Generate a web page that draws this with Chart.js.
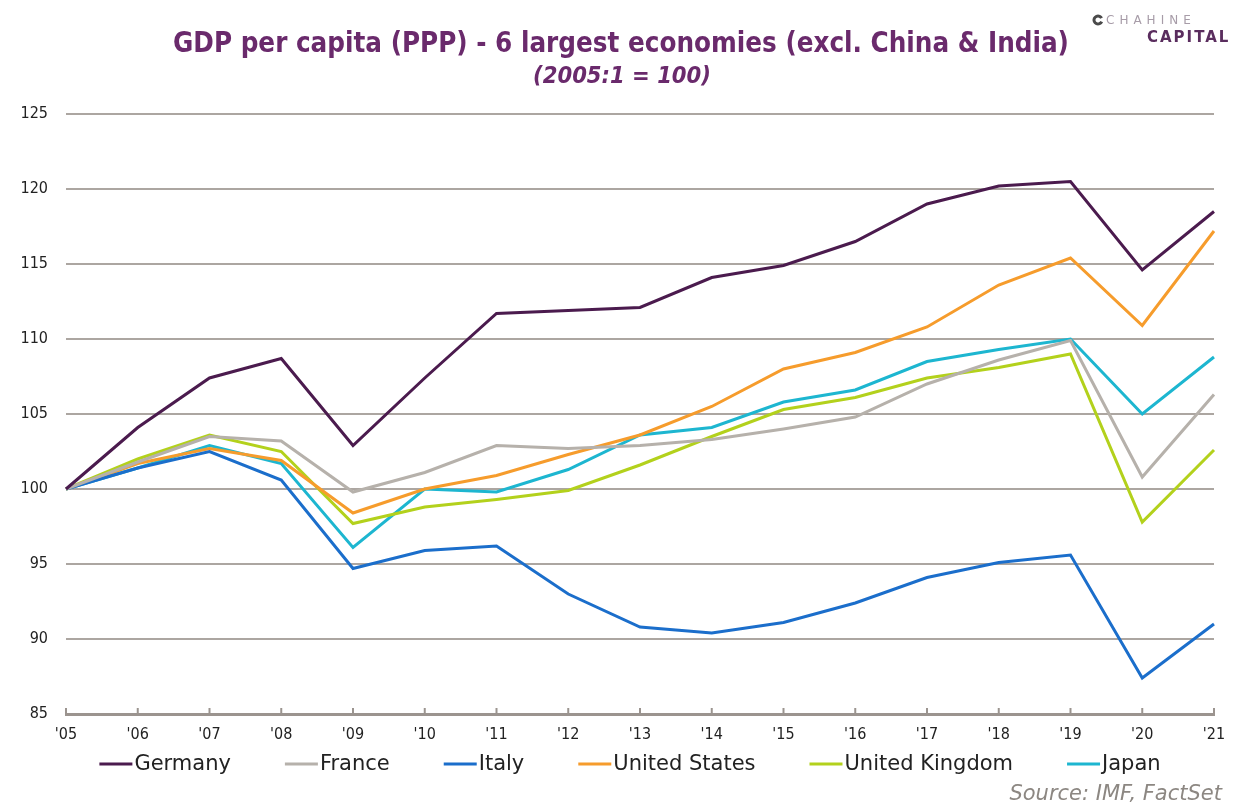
<!DOCTYPE html>
<html>
<head>
<meta charset="utf-8">
<script src="https://cdn.jsdelivr.net/npm/chart.js"></script>
<style>
  html, body { margin: 0; padding: 0; background: #fff; overflow: hidden; }
  canvas { display: block; }
</style>
</head>
<body>
<canvas id="chart" width="1233" height="805"></canvas>
<script>
const years = ["'05", "'06", "'07", "'08", "'09", "'10", "'11", "'12", "'13", "'14", "'15", "'16", "'17", "'18", "'19", "'20", "'21"];
const germany = [100, 104.1, 107.4, 108.7, 102.9, 107.4, 111.7, 111.9, 112.1, 114.1, 114.9, 116.5, 119.0, 120.2, 120.5, 114.6, 118.5];
const france  = [100, 101.8, 103.5, 103.2, 99.8, 101.1, 102.9, 102.7, 102.9, 103.3, 104.0, 104.8, 107.0, 108.6, 109.9, 100.8, 106.3];
const italy   = [100, 101.4, 102.5, 100.6, 94.7, 95.9, 96.2, 93.0, 90.8, 90.4, 91.1, 92.4, 94.1, 95.1, 95.6, 87.4, 91.0];
const usa     = [100, 101.7, 102.7, 101.9, 98.4, 100.0, 100.9, 102.3, 103.6, 105.5, 108.0, 109.1, 110.8, 113.6, 115.4, 110.9, 117.2];
const uk      = [100, 102.0, 103.6, 102.5, 97.7, 98.8, 99.3, 99.9, 101.6, 103.5, 105.3, 106.1, 107.4, 108.1, 109.0, 97.8, 102.6];
const japan   = [100, 101.4, 102.9, 101.7, 96.1, 100.0, 99.8, 101.3, 103.6, 104.1, 105.8, 106.6, 108.5, 109.3, 110.0, 105.0, 108.8];
const yTicks  = [85, 90, 95, 100, 105, 110, 115, 120, 125];

const COND = '"DejaVu Sans Condensed", "DejaVu Sans", sans-serif';
const SANS = '"DejaVu Sans", sans-serif';

function series(label, data, color) {
  return {
    label: label, data: data, borderColor: color, backgroundColor: color,
    borderWidth: 3, pointRadius: 0, tension: 0, fill: false
  };
}

const decor = {
  id: 'decor',
  beforeDraw(chart) {
    const ctx = chart.ctx;
    ctx.save();
    ctx.fillStyle = '#ffffff';
    ctx.fillRect(0, 0, chart.width, chart.height);
    ctx.restore();
  },
  afterDraw(chart) {
    const ctx = chart.ctx;
    const x = chart.scales.x;
    const area = chart.chartArea;
    ctx.save();

    // small tick marks on the x axis, pointing up
    ctx.strokeStyle = '#9b948f';
    ctx.lineWidth = 2;
    for (let i = 0; i < years.length; i++) {
      const px = x.getPixelForTick(i);
      ctx.beginPath();
      ctx.moveTo(px, area.bottom);
      ctx.lineTo(px, area.bottom - 6);
      ctx.stroke();
    }

    // title + subtitle
    ctx.textAlign = 'center';
    ctx.textBaseline = 'middle';
    ctx.fillStyle = '#6a2a6c';
    ctx.font = 'bold 27.5px ' + COND;
    ctx.fillText('GDP per capita (PPP) - 6 largest economies (excl. China & India)', 621, 45);
    ctx.font = 'italic bold 23.5px ' + COND;
    ctx.fillText('(2005:1 = 100)', 622, 77);

    // logo
    ctx.textAlign = 'left';
    ctx.fillStyle = '#a79ca8';
    ctx.font = '12px ' + SANS;
    ctx.letterSpacing = '5px';
    ctx.fillText('CHAHINE', 1106, 21);
    ctx.fillStyle = '#5a2d5e';
    ctx.font = 'bold 15px ' + SANS;
    ctx.letterSpacing = '2px';
    ctx.fillText('CAPITAL', 1147, 38);
    ctx.letterSpacing = '0px';
    ctx.strokeStyle = '#4a4a4a';
    ctx.lineWidth = 3;
    ctx.beginPath();
    ctx.arc(1098, 20, 4, 0.4, Math.PI * 1.85);
    ctx.stroke();

    // legend
    const lineLen = 33, gap = 2, spacing = 54;
    ctx.font = '21px ' + SANS;
    const items = chart.data.datasets.map(d => ({ label: d.label, color: d.borderColor, w: ctx.measureText(d.label).width }));
    let total = 0;
    items.forEach((it, i) => { total += lineLen + gap + it.w + (i < items.length - 1 ? spacing : 0); });
    let lx = 630 - total / 2;
    const ly = 764;
    items.forEach(it => {
      ctx.strokeStyle = it.color;
      ctx.lineWidth = 3;
      ctx.beginPath();
      ctx.moveTo(lx, ly);
      ctx.lineTo(lx + lineLen, ly);
      ctx.stroke();
      ctx.fillStyle = '#222';
      ctx.textAlign = 'left';
      ctx.fillText(it.label, lx + lineLen + gap, ly + 1);
      lx += lineLen + gap + it.w + spacing;
    });

    // source
    ctx.textAlign = 'right';
    ctx.fillStyle = '#8c8782';
    ctx.font = 'italic 21px ' + SANS;
    ctx.fillText('Source: IMF, FactSet', 1222, 795);

    ctx.restore();
  }
};

new Chart(document.getElementById('chart'), {
  type: 'line',
  data: {
    labels: years,
    datasets: [
      series('Germany', germany, '#4b1b4e'),
      series('France', france, '#b6b1ab'),
      series('Italy', italy, '#1b6ecb'),
      series('United States', usa, '#f69c2c'),
      series('United Kingdom', uk, '#b3d11c'),
      series('Japan', japan, '#1db6d0')
    ]
  },
  options: {
    responsive: false,
    devicePixelRatio: 1,
    animation: false,
    layout: { padding: { top: 114, left: 0, right: 19, bottom: 51 } },
    plugins: {
      legend: { display: false },
      title: { display: false },
      tooltip: { enabled: false }
    },
    scales: {
      x: {
        offset: false,
        grid: { display: false, drawTicks: true, tickLength: 9 },
        border: { display: true, color: '#9b948f', width: 3 },
        ticks: { color: '#222', font: { family: COND, size: 16 }, padding: 2, maxRotation: 0, autoSkip: false },
        afterFit: s => { s.height = 40; }
      },
      y: {
        min: 85,
        max: 125,
        afterBuildTicks: s => { s.ticks = yTicks.map(v => ({ value: v })); },
        grid: { color: '#aca6a1', lineWidth: 2, drawTicks: false },
        border: { display: false },
        ticks: { color: '#222', font: { family: COND, size: 16 }, padding: 18 },
        afterFit: s => { s.width = 66; }
      }
    }
  },
  plugins: [decor]
});
</script>
</body>
</html>
